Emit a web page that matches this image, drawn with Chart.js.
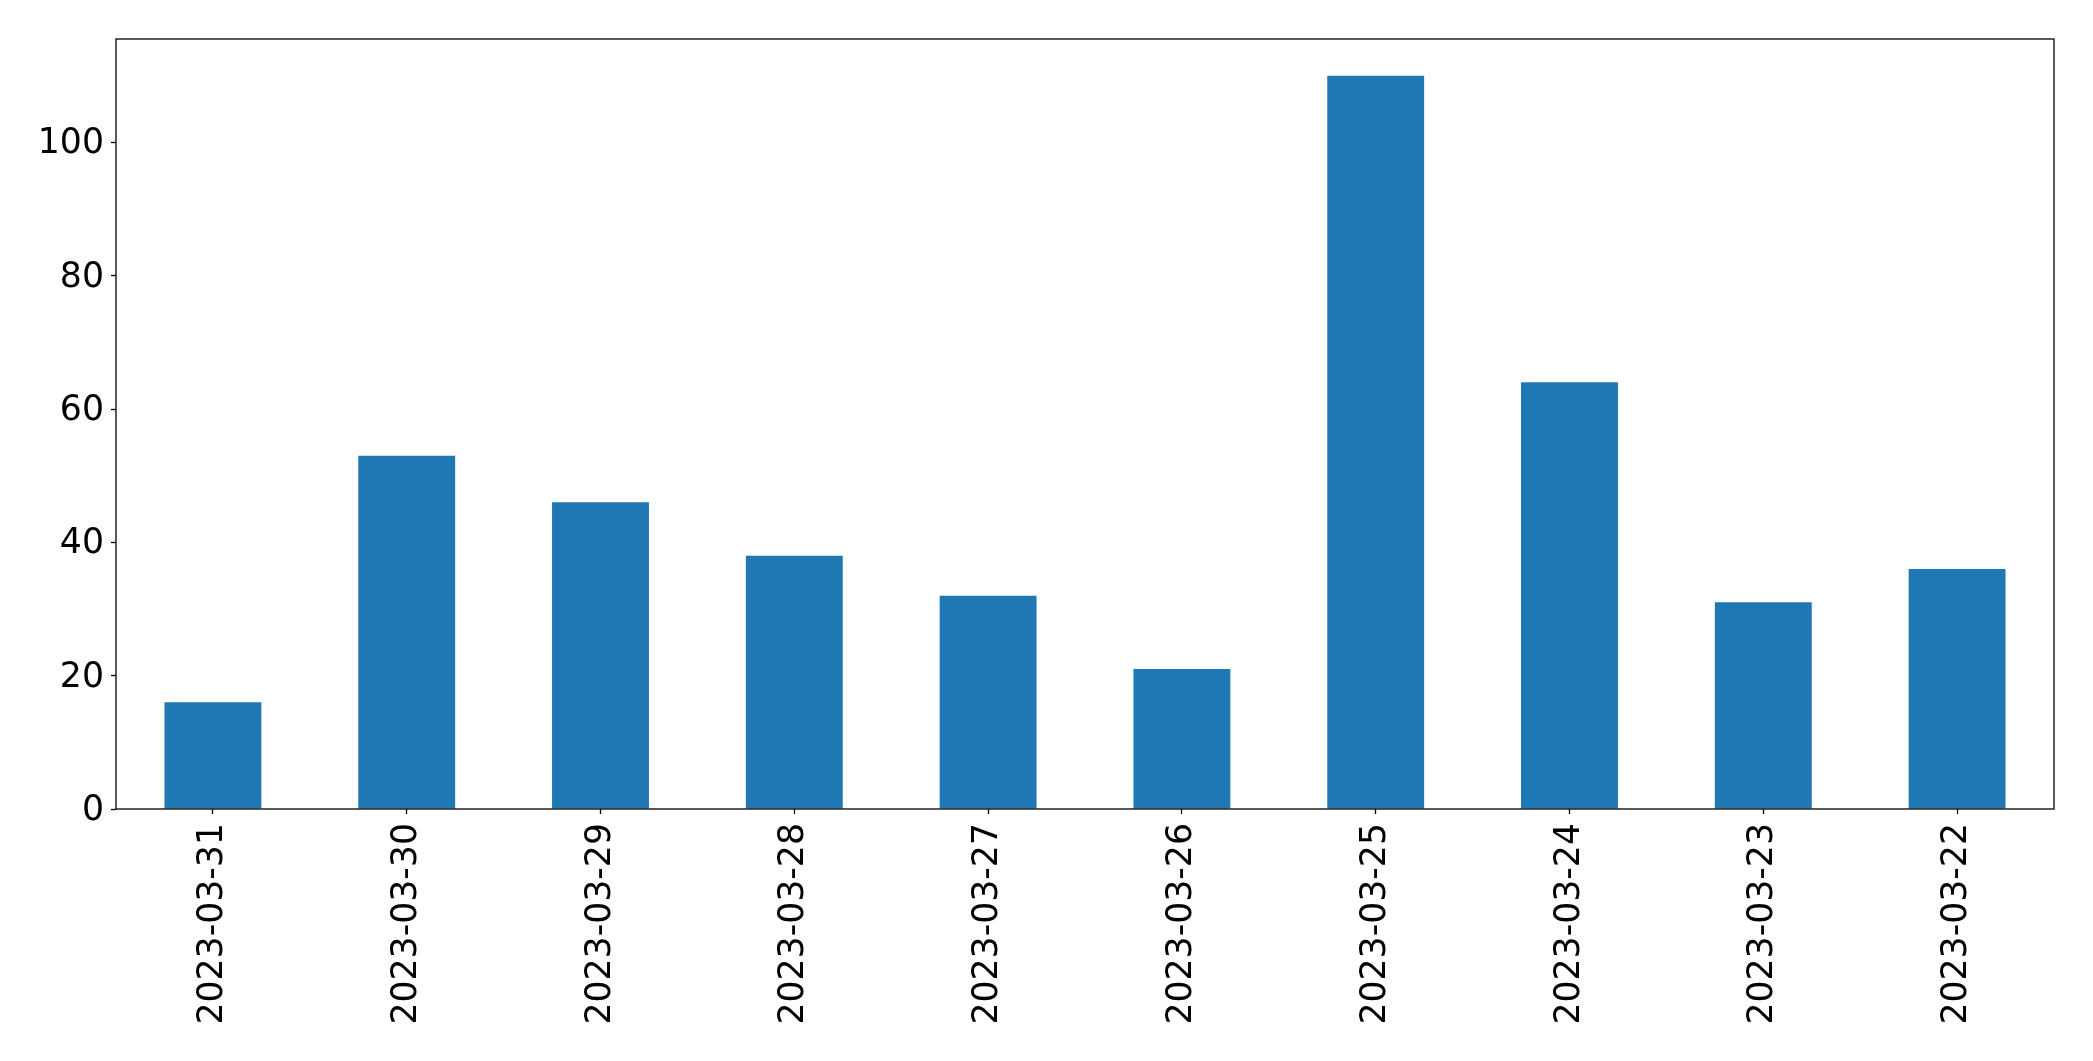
<!DOCTYPE html>
<html lang="en">
<head>
  <meta charset="UTF-8" />
  <title>Daily counts</title>
  <script src="https://cdn.jsdelivr.net/npm/chart.js"></script>
  <style>
    html, body {
      margin: 0;
      padding: 0;
      background: #fff;
    }
    canvas {
      display: block;
    }
  </style>
</head>
<body>
  <canvas id="barChart" width="2093" height="1061"></canvas>

  <script>
    const dates = [
      '2023-03-31', '2023-03-30', '2023-03-29', '2023-03-28', '2023-03-27',
      '2023-03-26', '2023-03-25', '2023-03-24', '2023-03-23', '2023-03-22'
    ];
    const counts = [16, 53, 46, 38, 32, 21, 110, 64, 31, 36];
    const yTicks = [0, 20, 40, 60, 80, 100];

    const fontStack = '"DejaVu Sans", sans-serif';

    // draws the full box round the plot area, like matplotlib's spines
    const frame = {
      id: 'frame',
      afterDraw(chart) {
        const { ctx, chartArea: a } = chart;
        ctx.save();
        ctx.strokeStyle = '#000';
        ctx.lineWidth = 1.3;
        ctx.strokeRect(a.left, a.top, a.right - a.left, a.bottom - a.top);
        ctx.restore();
      }
    };

    const ctx = document.getElementById('barChart').getContext('2d');
    new Chart(ctx, {
      type: 'bar',
      data: {
        labels: dates,
        datasets: [{
          data: counts,
          backgroundColor: '#1f77b4',
          borderWidth: 0,
          categoryPercentage: 1.0,
          barPercentage: 0.5
        }]
      },
      options: {
        responsive: false,
        animation: false,
        devicePixelRatio: 1,
        layout: {
          padding: { top: 39, right: 39, left: 0, bottom: 0 }
        },
        plugins: {
          legend: { display: false },
          title: { display: false },
          tooltip: { enabled: false }
        },
        scales: {
          x: {
            offset: true,
            grid: {
              offset: false,
              drawOnChartArea: false,
              drawTicks: true,
              tickLength: 5,
              tickColor: '#000',
              tickWidth: 1.3
            },
            border: { display: false },
            ticks: {
              color: '#000',
              font: { family: fontStack, size: 34.7 },
              minRotation: 90,
              maxRotation: 90,
              autoSkip: false,
              padding: 9
            },
            afterFit(scale) {
              scale.height = 252;
            }
          },
          y: {
            min: 0,
            max: 115.5,
            grid: {
              drawOnChartArea: false,
              drawTicks: true,
              tickLength: 5,
              tickColor: '#000',
              tickWidth: 1.3
            },
            border: { display: false },
            ticks: {
              color: '#000',
              font: { family: fontStack, size: 34.7 },
              stepSize: 20,
              includeBounds: false,
              padding: 7,
              labelOffset: 2
            },
            afterBuildTicks(scale) {
              scale.ticks = yTicks.map(v => ({ value: v }));
            },
            afterFit(scale) {
              scale.width = 116;
            }
          }
        }
      },
      plugins: [frame]
    });
  </script>
</body>
</html>
